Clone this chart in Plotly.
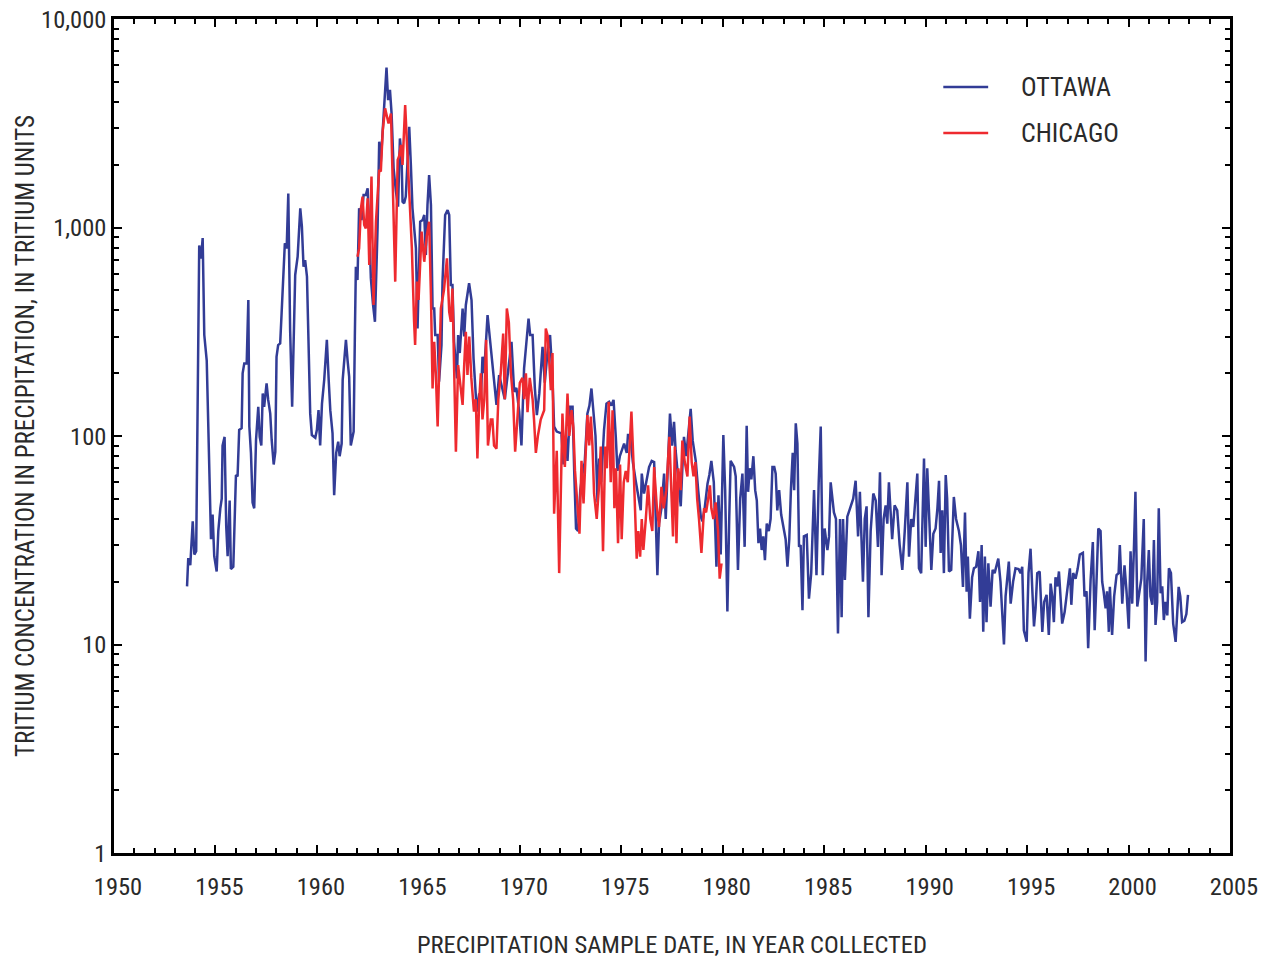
import plotly.graph_objects as go

# ---------------- data ----------------
ottawa_year = [
    1953.60, 1953.66, 1953.76, 1953.88, 1953.96, 1954.05, 1954.20, 1954.29, 1954.37, 1954.45,
    1954.57, 1954.62, 1954.69, 1954.78, 1954.86, 1954.94, 1955.06, 1955.14, 1955.24, 1955.31,
    1955.35, 1955.45, 1955.53, 1955.60, 1955.70, 1955.76, 1955.88, 1956.01, 1956.09, 1956.17,
    1956.29, 1956.34, 1956.42, 1956.54, 1956.62, 1956.67, 1956.75, 1956.83, 1956.91, 1957.00,
    1957.11, 1957.18, 1957.26, 1957.33, 1957.40, 1957.52, 1957.60, 1957.70, 1957.77, 1957.87,
    1957.95, 1958.01, 1958.09, 1958.19, 1958.26, 1958.34, 1958.42, 1958.51, 1958.59, 1958.68,
    1958.78, 1958.93, 1959.05, 1959.18, 1959.26, 1959.34, 1959.42, 1959.51, 1959.59, 1959.67,
    1959.75, 1959.84, 1959.92, 1960.00, 1960.08, 1960.16, 1960.25, 1960.36, 1960.43, 1960.49,
    1960.58, 1960.66, 1960.77, 1960.85, 1960.95, 1961.05, 1961.12, 1961.22, 1961.27, 1961.35,
    1961.43, 1961.51, 1961.59, 1961.67, 1961.81, 1961.87, 1961.92, 1962.00, 1962.08, 1962.20,
    1962.30, 1962.41, 1962.50, 1962.58, 1962.66, 1962.76, 1962.86, 1962.99, 1963.07, 1963.15,
    1963.29, 1963.43, 1963.51, 1963.60, 1963.68, 1963.78, 1963.89, 1964.00, 1964.09, 1964.17,
    1964.22, 1964.30, 1964.38, 1964.55, 1964.63, 1964.71, 1964.88, 1964.96, 1965.09, 1965.21,
    1965.29, 1965.37, 1965.45, 1965.53, 1965.62, 1965.70, 1965.78, 1965.83, 1965.95, 1966.02,
    1966.14, 1966.19, 1966.32, 1966.44, 1966.52, 1966.60, 1966.68, 1966.76, 1966.90, 1966.96,
    1967.04, 1967.18, 1967.26, 1967.34, 1967.50, 1967.62, 1967.72, 1967.80, 1967.88, 1968.00,
    1968.08, 1968.16, 1968.24, 1968.41, 1968.57, 1968.73, 1968.85, 1968.98, 1969.11, 1969.26,
    1969.41, 1969.59, 1969.72, 1969.83, 1969.97, 1970.08, 1970.21, 1970.32, 1970.43, 1970.51,
    1970.63, 1970.74, 1970.84, 1970.96, 1971.12, 1971.23, 1971.36, 1971.49, 1971.60, 1971.69,
    1971.82, 1972.05, 1972.15, 1972.27, 1972.35, 1972.48, 1972.60, 1972.68, 1972.77, 1972.87,
    1972.98, 1973.09, 1973.20, 1973.33, 1973.43, 1973.53, 1973.63, 1973.73, 1973.83, 1973.91,
    1974.01, 1974.15, 1974.27, 1974.40, 1974.51, 1974.62, 1974.73, 1974.81, 1974.93, 1975.02,
    1975.14, 1975.27, 1975.33, 1975.44, 1975.57, 1975.71, 1975.84, 1975.96, 1976.01, 1976.12,
    1976.23, 1976.37, 1976.50, 1976.62, 1976.78, 1976.86, 1976.98, 1977.11, 1977.19, 1977.29,
    1977.40, 1977.51, 1977.60, 1977.68, 1977.77, 1977.86, 1977.93, 1978.01, 1978.09, 1978.20,
    1978.30, 1978.42, 1978.52, 1978.60, 1978.67, 1978.79, 1978.92, 1979.00, 1979.11, 1979.25,
    1979.34, 1979.44, 1979.56, 1979.69, 1979.79, 1979.90, 1980.03, 1980.12, 1980.23, 1980.32,
    1980.39, 1980.56, 1980.64, 1980.75, 1980.86, 1980.97, 1981.08, 1981.18, 1981.25, 1981.33,
    1981.41, 1981.51, 1981.60, 1981.68, 1981.76, 1981.84, 1981.92, 1982.00, 1982.08, 1982.17,
    1982.27, 1982.36, 1982.45, 1982.54, 1982.61, 1982.69, 1982.78, 1982.88, 1983.00, 1983.10,
    1983.19, 1983.28, 1983.36, 1983.45, 1983.52, 1983.60, 1983.68, 1983.76, 1983.84, 1983.93,
    1984.00, 1984.14, 1984.25, 1984.36, 1984.50, 1984.62, 1984.73, 1984.83, 1984.93, 1985.02,
    1985.16, 1985.24, 1985.32, 1985.48, 1985.58, 1985.68, 1985.78, 1985.86, 1985.93, 1986.02,
    1986.14, 1986.28, 1986.43, 1986.55, 1986.67, 1986.76, 1986.91, 1987.00, 1987.09, 1987.18,
    1987.29, 1987.42, 1987.54, 1987.65, 1987.75, 1987.83, 1987.93, 1988.03, 1988.11, 1988.19,
    1988.28, 1988.35, 1988.47, 1988.60, 1988.72, 1988.85, 1988.97, 1989.10, 1989.18, 1989.29,
    1989.39, 1989.48, 1989.59, 1989.67, 1989.78, 1989.92, 1990.00, 1990.08, 1990.20, 1990.28,
    1990.38, 1990.49, 1990.58, 1990.66, 1990.74, 1990.82, 1990.90, 1990.99, 1991.06, 1991.15,
    1991.26, 1991.39, 1991.50, 1991.64, 1991.74, 1991.84, 1991.94, 1992.02, 1992.08, 1992.18,
    1992.29, 1992.38, 1992.49, 1992.60, 1992.68, 1992.76, 1992.84, 1992.92, 1993.00, 1993.09,
    1993.20, 1993.30, 1993.40, 1993.50, 1993.58, 1993.69, 1993.86, 1993.94, 1994.10, 1994.19,
    1994.31, 1994.43, 1994.58, 1994.68, 1994.76, 1994.84, 1994.98, 1995.07, 1995.17, 1995.26,
    1995.34, 1995.42, 1995.50, 1995.62, 1995.75, 1995.84, 1995.96, 1996.07, 1996.16, 1996.24,
    1996.32, 1996.40, 1996.49, 1996.57, 1996.65, 1996.73, 1996.85, 1996.97, 1997.11, 1997.18,
    1997.27, 1997.39, 1997.49, 1997.60, 1997.75, 1997.83, 1997.93, 1998.01, 1998.13, 1998.24,
    1998.33, 1998.42, 1998.51, 1998.62, 1998.70, 1998.77, 1998.87, 1998.94, 1999.03, 1999.08,
    1999.19, 1999.29, 1999.41, 1999.51, 1999.57, 1999.69, 1999.80, 1999.90, 2000.01, 2000.10,
    2000.18, 2000.27, 2000.34, 2000.43, 2000.52, 2000.63, 2000.75, 2000.84, 2000.92, 2001.00,
    2001.08, 2001.17, 2001.25, 2001.33, 2001.41, 2001.49, 2001.58, 2001.66, 2001.74, 2001.82,
    2001.91, 2001.99, 2002.09, 2002.20, 2002.32, 2002.39, 2002.47, 2002.55, 2002.64, 2002.75,
    2002.85, 2002.93,
]
ottawa_tu = [
    19, 26, 24, 39, 27, 28, 820, 710, 890, 305,
    230, 133, 66, 32, 42, 26.5, 22.4, 35, 45, 50,
    90, 99, 37, 26.5, 49, 23, 23.6, 65, 64, 107,
    109, 200, 223, 223, 449, 111, 83, 48, 45, 96,
    138, 99, 90, 160, 138, 179, 149, 128, 96, 73,
    84, 240, 273, 278, 387, 560, 840, 794, 1456, 322,
    138, 592, 724, 1236, 1009, 649, 698, 581, 258, 128,
    101, 99, 98, 107, 133, 90, 143, 186, 249, 289,
    186, 133, 103, 52, 83, 94, 80, 92, 186, 240,
    289, 231, 192, 90, 105, 299, 649, 560, 1236, 1086,
    1432, 1432, 1541, 989, 570, 433, 353, 1000, 2579, 2070,
    3594, 5848, 4085, 4571, 3524, 1923, 1500, 1259, 2673, 2228,
    1330, 1306, 1406, 3040, 2000, 1236, 794, 328, 1066, 1086,
    1148, 738, 1282, 1786, 1282, 409, 409, 305, 305, 182,
    273, 550, 1148, 1213, 1148, 530, 530, 283, 189, 305,
    250, 409, 300, 425, 540, 449, 235, 163, 131, 160,
    150, 240, 200, 380, 263, 189, 141, 196, 170, 150,
    200, 283, 163, 170, 131, 90, 211, 280, 366, 305,
    305, 170, 126, 160, 268, 180, 250, 305, 200, 111,
    105, 103, 73, 99, 76, 138, 138, 68, 36, 35,
    55, 66, 75, 128, 140, 169, 128, 100, 48, 78,
    60, 107, 143, 146, 140, 149, 99, 68, 80, 85,
    92, 83, 101, 101, 75, 61, 50, 44, 66, 53,
    60, 71, 76, 75, 21.5, 38, 45, 66, 40, 70,
    128, 90, 117, 85, 68, 55, 46, 70, 99, 80,
    100, 135, 95, 85, 76, 55, 41, 39, 45, 59,
    65, 76, 60, 23.6, 52, 27, 101, 55, 14.4, 40,
    76, 71, 64, 22.8, 50, 66, 29.4, 112, 54, 70,
    62, 80, 55, 49, 30.6, 36, 28.4, 33, 25.4, 38,
    35, 40, 71, 71, 66, 44, 55, 42, 36, 32,
    23.6, 32, 55, 83, 55, 115, 92, 29.4, 30, 14.6,
    33, 33.5, 16.6, 22, 55, 21.5, 60, 111, 21.5, 36,
    28.4, 33, 60, 43, 40, 11.3, 40, 13.5, 40, 20.4,
    41, 45, 50, 61, 33, 54, 20, 40, 46, 13.5,
    35, 53, 49, 29.4, 67, 21.5, 40, 46.5, 38, 60,
    38, 32, 46.5, 44, 30, 22.8, 35, 60, 26.4, 40,
    36.6, 50, 66, 23.2, 22, 78, 29.4, 70, 35, 22.8,
    34, 36, 45, 61, 27.5, 44, 22, 65, 50, 22.4,
    22.8, 51, 40, 35, 30, 18.9, 43, 17.9, 26.4, 13.3,
    21, 23.2, 23.6, 28, 16, 30, 11.5, 26.4, 12.8, 24.5,
    15.2, 22.8, 22, 24, 25.8, 20, 10, 17, 25, 15.7,
    20, 23.2, 23, 22, 23.6, 11.7, 10.3, 22, 28.8, 18,
    12.2, 15, 22, 22.4, 11.5, 16, 17.3, 11.1, 19.6, 17,
    12.8, 21, 19, 22.4, 17, 12.6, 14.3, 18, 23.2, 15.5,
    22, 20.7, 23, 27, 27.5, 17, 18, 9.6, 20.4, 31,
    11.7, 20, 36, 35, 20, 18, 14.9, 18, 11.5, 18.9,
    11.1, 17, 21.5, 22, 30, 15.7, 24, 18, 11.9, 28,
    15.7, 30, 54, 15.2, 18, 20.7, 40, 8.3, 20, 28.4,
    17, 15.5, 31.7, 12.4, 16, 45, 17.6, 19, 13.1, 16,
    13.8, 23.2, 22, 12.6, 10.3, 13, 18.9, 17, 12.8, 13,
    14, 17.3,
]

chicago_year = [
    1962.00, 1962.08, 1962.17, 1962.25, 1962.33, 1962.41, 1962.50, 1962.58, 1962.69, 1962.79,
    1962.91, 1962.99, 1963.07, 1963.15, 1963.24, 1963.36, 1963.45, 1963.53, 1963.65, 1963.74,
    1963.86, 1963.98, 1964.05, 1964.14, 1964.22, 1964.35, 1964.46, 1964.55, 1964.68, 1964.79,
    1964.84, 1964.93, 1965.01, 1965.16, 1965.29, 1965.42, 1965.53, 1965.62, 1965.70, 1965.78,
    1965.86, 1965.95, 1966.03, 1966.11, 1966.26, 1966.41, 1966.52, 1966.60, 1966.68, 1966.77,
    1966.85, 1966.96, 1967.07, 1967.18, 1967.26, 1967.34, 1967.42, 1967.51, 1967.61, 1967.74,
    1967.83, 1967.91, 1968.00, 1968.08, 1968.16, 1968.25, 1968.34, 1968.43, 1968.57, 1968.65,
    1968.73, 1968.85, 1968.94, 1969.06, 1969.18, 1969.26, 1969.36, 1969.46, 1969.56, 1969.67,
    1969.77, 1969.89, 1970.00, 1970.13, 1970.21, 1970.30, 1970.38, 1970.49, 1970.63, 1970.70,
    1970.79, 1970.89, 1971.03, 1971.20, 1971.28, 1971.38, 1971.53, 1971.61, 1971.69, 1971.82,
    1971.94, 1972.10, 1972.22, 1972.35, 1972.44, 1972.55, 1972.64, 1972.72, 1972.83, 1972.94,
    1973.04, 1973.14, 1973.24, 1973.33, 1973.42, 1973.50, 1973.58, 1973.66, 1973.79, 1973.89,
    1973.99, 1974.10, 1974.21, 1974.29, 1974.38, 1974.48, 1974.57, 1974.66, 1974.74, 1974.84,
    1974.94, 1975.02, 1975.12, 1975.22, 1975.32, 1975.39, 1975.50, 1975.59, 1975.67, 1975.76,
    1975.84, 1975.93, 1976.01, 1976.09, 1976.21, 1976.32, 1976.43, 1976.53, 1976.62, 1976.75,
    1976.86, 1976.98, 1977.09, 1977.22, 1977.37, 1977.46, 1977.55, 1977.64, 1977.72, 1977.81,
    1977.93, 1978.01, 1978.13, 1978.26, 1978.37, 1978.47, 1978.56, 1978.65, 1978.74, 1978.83,
    1978.95, 1979.08, 1979.18, 1979.27, 1979.37, 1979.44, 1979.54, 1979.65, 1979.77, 1979.85,
    1979.94,
]
chicago_tu = [
    724, 794, 1236, 1406, 1028, 989, 1380, 661, 1754, 425,
    1066, 1432, 1888, 1855, 2884, 3730, 3334, 3155, 3524, 1500,
    550, 2107, 2200, 2489, 1995, 3864, 2300, 1660, 794, 353,
    273, 550, 449, 955, 685, 920, 1066, 474, 169, 283,
    200, 111, 250, 409, 500, 711, 394, 353, 510, 200,
    84, 219, 180, 141, 220, 316, 196, 300, 190, 131,
    150, 78, 150, 200, 120, 150, 289, 90, 120, 120,
    90, 87, 150, 200, 310, 150, 409, 350, 200, 150,
    84, 120, 180, 190, 150, 200, 130, 190, 150, 120,
    83, 100, 120, 133, 328, 300, 166, 250, 42.4, 85,
    22, 128, 71, 160, 100, 133, 110, 68, 50, 34,
    76, 47.5, 80, 126, 90, 124, 90, 53, 40, 55,
    89, 28, 89, 70, 146, 60, 133, 45, 70, 30.6,
    73, 32, 60, 68, 60, 80, 131, 80, 45, 25.8,
    35, 26.4, 40, 28.4, 40, 58, 40, 35, 71, 46,
    36.6, 57, 45, 55, 99, 60, 33, 89, 30.6, 70,
    55, 95, 75, 64, 124, 75, 64, 75, 50, 40,
    27.5, 45, 43, 49, 58, 45, 40, 48, 35, 20.7,
    24.5,
]

series_names = ["OTTAWA", "CHICAGO"]
x_tick_vals = [1950, 1955, 1960, 1965, 1970, 1975, 1980, 1985, 1990, 1995, 2000, 2005]
y_tick_vals = [1, 10, 100, 1000, 10000]
y_tick_text = ["1", "10", "100", "1,000", "10,000"]
y_minor_vals = [m * d for d in (1, 10, 100, 1000) for m in range(2, 10)]

# ---------------- figure ----------------
FONT = "Liberation Sans Narrow, Roboto Condensed, Arial Narrow, sans-serif"
TXT = "#2a2a2a"
BLUE = "#323C96"
RED = "#EE2A2F"

fig = go.Figure()
fig.add_trace(go.Scatter(x=ottawa_year, y=ottawa_tu, mode="lines", name=series_names[0],
                         showlegend=False, line=dict(color=BLUE, width=2.5)))
fig.add_trace(go.Scatter(x=chicago_year, y=chicago_tu, mode="lines", name=series_names[1],
                         showlegend=False, line=dict(color=RED, width=2.5)))

axis_common = dict(
    showline=True, linecolor="black", linewidth=2.5, mirror="allticks",
    ticks="inside", tickcolor="black", tickwidth=2, showgrid=False, zeroline=False,
    automargin=False,
    tickfont=dict(family=FONT, size=24.5, color=TXT),
)

fig.update_xaxes(
    range=[1950, 2005], tickmode="array", tickvals=x_tick_vals, ticklen=8,
    ticklabelstandoff=10, ticklabelshift=4,
    minor=dict(dtick=1, ticks="inside", ticklen=5, tickcolor="black", tickwidth=2, showgrid=False),
    title=dict(text="PRECIPITATION SAMPLE DATE, IN YEAR COLLECTED",
               font=dict(family=FONT, size=24.6, color=TXT), standoff=38),
    **axis_common,
)
fig.update_yaxes(
    type="log", range=[0, 4], tickmode="array", tickvals=y_tick_vals, ticktext=y_tick_text,
    ticklen=8, ticklabelstandoff=0,
    minor=dict(tickmode="array", tickvals=y_minor_vals, ticks="inside", ticklen=5,
               tickcolor="black", tickwidth=2, showgrid=False),
    title=dict(text="TRITIUM CONCENTRATION IN PRECIPITATION, IN TRITIUM UNITS",
               font=dict(family=FONT, size=25, color=TXT), standoff=0),
    **axis_common,
)

# legend drawn as key lines + labels (inside the plot, upper right)
legend_colors = [BLUE, RED]
legend_y = [0.9185, 0.8633]
for name, col, ly in zip(series_names, legend_colors, legend_y):
    fig.add_shape(type="line", xref="paper", yref="paper", x0=0.7431, x1=0.7833, y0=ly, y1=ly,
                  line=dict(color=col, width=2.5))
    fig.add_annotation(xref="paper", yref="paper", x=0.8111, y=ly, xanchor="left", yanchor="middle",
                       text=name, showarrow=False, font=dict(family=FONT, size=26, color=TXT))

fig.update_layout(
    width=1264, height=959,
    margin=dict(l=114, r=34, t=19, b=106),
    paper_bgcolor="white", plot_bgcolor="white",
    showlegend=False,
)

fig.write_html("out.html")
